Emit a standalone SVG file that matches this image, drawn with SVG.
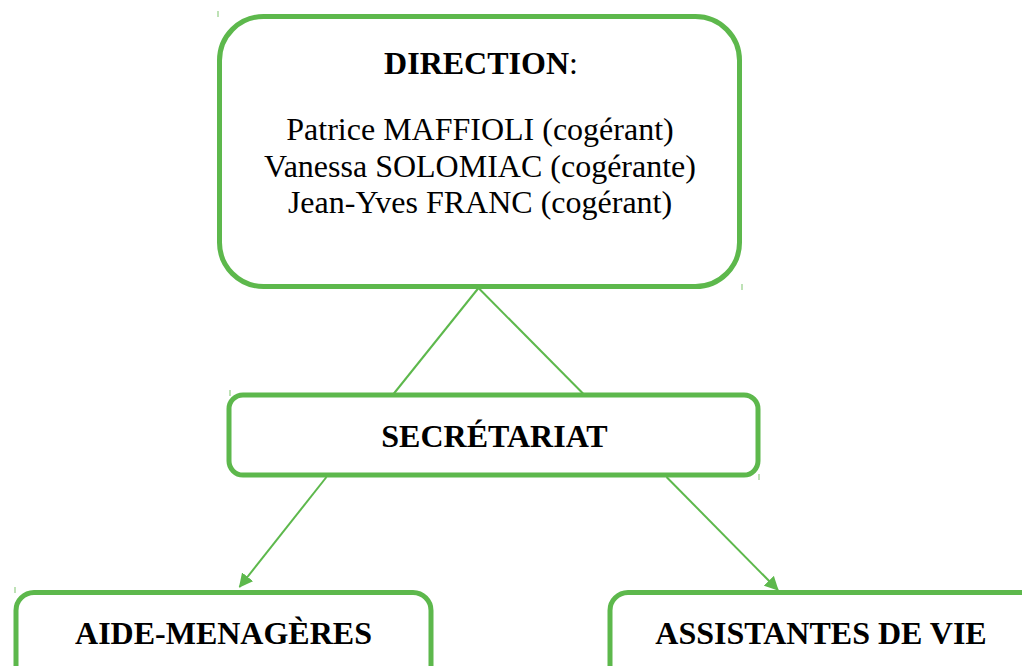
<svg xmlns="http://www.w3.org/2000/svg" width="1022" height="666" viewBox="0 0 1022 666">
<style>
.box{fill:#ffffff;stroke:#5DB84C;stroke-width:5}
.con{stroke:#5DB84C;stroke-width:2;fill:none}
.t{font-family:"Liberation Serif","Times New Roman",serif;font-size:32px;fill:#000;text-anchor:middle}
.b{font-weight:bold}
.tick{stroke:#A8D89E;stroke-width:1.5}
</style>
<defs>
<marker id="arr" markerUnits="userSpaceOnUse" markerWidth="14" markerHeight="14" refX="13" refY="7" orient="auto">
<path d="M0,0 L14,7 L0,14 z" fill="#5DB84C"/>
</marker>
</defs>
<rect width="1022" height="666" fill="#ffffff"/>
<g id="connectors">
<line class="con" x1="478.5" y1="288" x2="393.5" y2="394"/>
<line class="con" x1="478.5" y1="288" x2="583.5" y2="394"/>
<line class="con" x1="326.5" y1="477" x2="239.5" y2="587" marker-end="url(#arr)"/>
<line class="con" x1="666.5" y1="477" x2="778" y2="590" marker-end="url(#arr)"/>
</g>
<g id="ticks">
<line class="tick" x1="218" y1="11" x2="218" y2="17"/>
<line class="tick" x1="742" y1="284" x2="742" y2="290"/>
<line class="tick" x1="230" y1="390" x2="230" y2="396"/>
<line class="tick" x1="759" y1="474" x2="759" y2="480"/>
<line class="tick" x1="15" y1="587" x2="15" y2="593"/>
</g>
<g id="direction">
<rect class="box" x="219.5" y="16.5" width="520" height="270" rx="44" ry="44"/>
<text class="t" x="481" y="73.5"><tspan class="b">DIRECTION</tspan>:</text>
<text class="t" x="480" y="140">Patrice MAFFIOLI (cogérant)</text>
<text class="t" x="480" y="176.5">Vanessa SOLOMIAC (cogérante)</text>
<text class="t" x="480" y="213">Jean-Yves FRANC (cogérant)</text>
</g>
<g id="secretariat">
<rect class="box" x="229" y="395" width="529" height="80" rx="14" ry="14"/>
<text class="t b" x="494.5" y="446.5">SECRÉTARIAT</text>
</g>
<g id="aide-menageres">
<rect class="box" x="16" y="592.5" width="415" height="110" rx="18" ry="18"/>
<text class="t b" x="223.5" y="643.5">AIDE-MENAGÈRES</text>
</g>
<g id="assistantes">
<rect class="box" x="610" y="592.5" width="440" height="110" rx="18" ry="18"/>
<text class="t b" x="821" y="643.5">ASSISTANTES DE VIE</text>
</g>
</svg>
